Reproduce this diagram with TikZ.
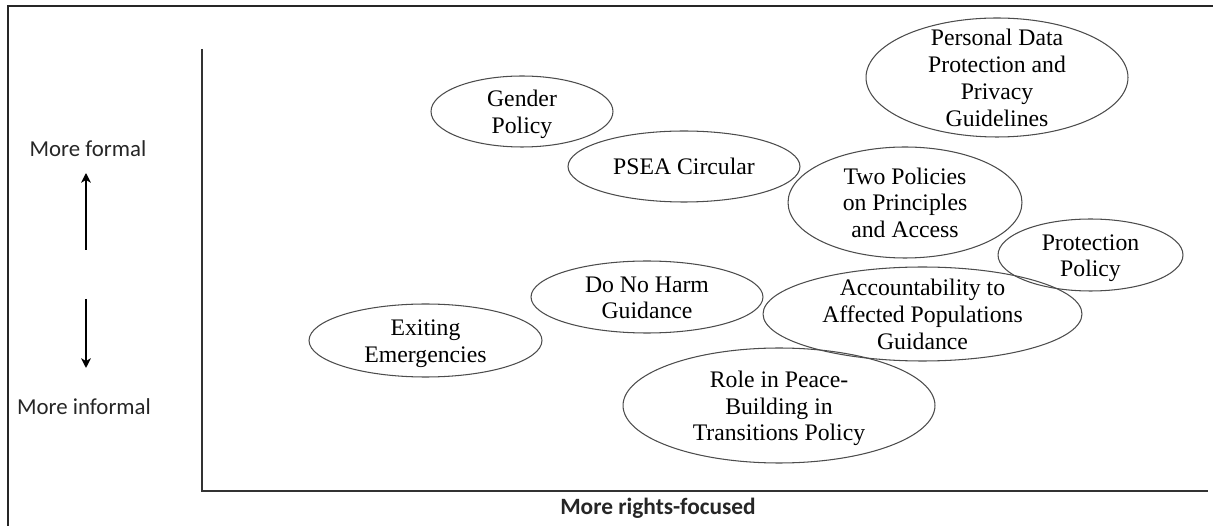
\documentclass[tikz,border=0pt]{standalone}
\usepackage{fontspec}
\setmainfont{Liberation Serif}
\newfontfamily\labelfont{Carlito}
\usetikzlibrary{arrows.meta,shapes.geometric,positioning}

% text of a bubble, takes no room in the node
\newcommand{\bubtext}[1]{\raisebox{-0.4em}[0pt][0pt]{\makebox[0pt]{\begin{tabular}{@{}c@{}}#1\end{tabular}}}}

\begin{document}
\begin{tikzpicture}[x=0.02cm,y=-0.02cm,>={Stealth[length=5.5pt,width=5.5pt,inset=1.5pt]},thin]
\tikzstyle{bubble}=[ellipse,draw=black!70,line width=0.6pt,inner sep=0pt,font=\fontsize{13.5}{15.2}\selectfont]
\tikzstyle{axis label}=[font=\labelfont\fontsize{13}{15}\selectfont,text=black!85]

\useasboundingbox (0,0) rectangle (1213,526);
\draw[black!85,line width=0.8pt] (8,526) |- (1213,6);

% axes
\coordinate (ytop) at (202,49);
\coordinate (O) at (202,491);
\coordinate (xend) at (1208,491);
\draw[black!80,line width=1.1pt] (ytop) -- (O) -- (xend);
\node[axis label,font=\labelfont\bfseries\fontsize{13.3}{15}\selectfont] (xlab) at (658,508) {More rights-focused};

% formal / informal
\node[axis label] (formal) at (88,149) {More formal};
\node[axis label] (informal) at (84,407) {More informal};
\coordinate (upstart) at (86,250);
\coordinate (upend) at (86,173);
\coordinate (downstart) at (86,299);
\coordinate (downend) at (86,368);
\draw[->,line width=1pt] (upstart) -- (upend);
\draw[->,line width=1pt] (downstart) -- (downend);

% policies
\node[bubble,minimum width=3.64cm,minimum height=1.42cm] (gender) at (522,111.5) {\bubtext{Gender\\Policy}};
\node[bubble,minimum width=4.64cm,minimum height=1.42cm] (psea) at (684,166.5) {\bubtext{PSEA Circular}};
\node[bubble,minimum width=5.24cm,minimum height=2.38cm] (personal) at (997,77.5) {\bubtext{Personal Data\\Protection and\\Privacy\\Guidelines}};
\node[bubble,minimum width=4.68cm,minimum height=2.22cm] (twopol) at (905,202.5) {\bubtext{Two Policies\\on Principles\\and Access}};
\node[bubble,minimum width=3.70cm,minimum height=1.44cm] (protection) at (1090.5,255) {\bubtext{Protection\\Policy}};
\node[bubble,minimum width=6.38cm,minimum height=1.88cm] (aap) at (922.5,314) {\bubtext{Accountability to\\Affected Populations\\Guidance}};
\node[bubble,minimum width=4.64cm,minimum height=1.44cm] (dnh) at (647,297) {\bubtext{Do No Harm\\Guidance}};
\node[bubble,minimum width=4.66cm,minimum height=1.46cm] (exiting) at (425.5,340.5) {\bubtext{Exiting\\Emergencies}};
\node[bubble,minimum width=6.24cm,minimum height=2.30cm] (peace) at (779,405.5) {\bubtext{Role in Peace-\\Building in\\Transitions Policy}};
\end{tikzpicture}
\end{document}
